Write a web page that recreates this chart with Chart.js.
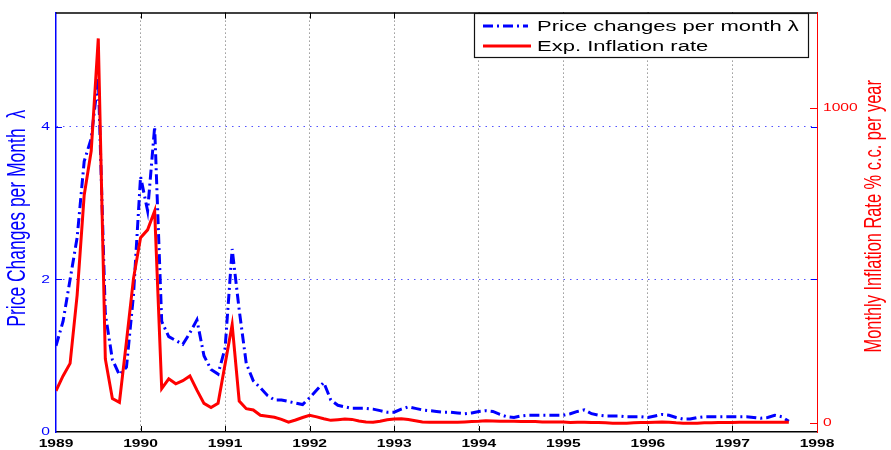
<!DOCTYPE html>
<html>
<head>
<meta charset="utf-8">
<script src="https://cdn.jsdelivr.net/npm/chart.js@4.4.1/dist/chart.umd.min.js"></script>
<style>
  html, body { margin: 0; padding: 0; background: #fff; }
  #wrap { width: 891px; height: 450px; }
</style>
</head>
<body>
<div id="wrap"><canvas id="chart" width="891" height="450"></canvas></div>
<script>
// Monthly series, January 1989 onwards
const START_YEAR = 1989;
const yearTicks = [1989, 1990, 1991, 1992, 1993, 1994, 1995, 1996, 1997, 1998];
const leftTicks = [0, 2, 4];
const rightTicks = [0, 1000];

// Price changes per month (lambda), left axis
const priceChanges = [
  1.13, 1.45, 2.0, 2.55, 3.55, 3.85, 4.65, 1.55, 0.95, 0.75, 0.85, 1.8,
  3.35, 2.9, 4.0, 1.45, 1.25, 1.2, 1.15, 1.3, 1.47, 1.0, 0.82, 0.76,
  1.1, 2.4, 1.6, 0.9, 0.67, 0.58, 0.48, 0.42, 0.42, 0.4, 0.38, 0.36,
  0.45, 0.55, 0.65, 0.42, 0.35, 0.33, 0.31, 0.31, 0.31, 0.3, 0.28, 0.26,
  0.26, 0.3, 0.33, 0.31, 0.29, 0.28, 0.27, 0.26, 0.26, 0.25, 0.24, 0.25,
  0.27, 0.28, 0.27, 0.23, 0.2, 0.19, 0.21, 0.22, 0.22, 0.22, 0.22, 0.22,
  0.22, 0.24, 0.27, 0.29, 0.24, 0.22, 0.21, 0.21, 0.21, 0.2, 0.2, 0.2,
  0.19, 0.21, 0.23, 0.22, 0.19, 0.17, 0.17, 0.19, 0.2, 0.2, 0.2, 0.2,
  0.2, 0.2, 0.2, 0.19, 0.18, 0.19, 0.22, 0.2, 0.14
];

// Expected inflation, % c.c. per year, right axis
const inflation = [
  103, 150, 190, 407, 724, 865, 1222, 204, 78, 66, 260, 460,
  589, 614, 674, 110, 141, 125, 135, 150, 105, 63, 50, 63,
  188, 313, 70, 46, 42, 25, 22, 19, 12, 3, 10, 18,
  25, 20, 14, 9, 11, 13, 12, 7, 4, 3, 6, 11,
  13, 14, 12, 8, 4, 3, 3, 3, 3, 3, 4, 5,
  6, 8, 7, 6, 6, 6, 5, 5, 5, 4, 4, 4,
  4, 2, 3, 3, 2, 2, 1, 0, 0, 0, 1, 2,
  2, 3, 4, 3, 1, 0, 0, 0, 1, 1, 2, 2,
  2, 3, 3, 3, 3, 3, 3, 3, 3
];

const months = priceChanges.map((_, i) => START_YEAR + i / 12);

const FONT = '"Liberation Sans", Arial, Helvetica, sans-serif';
const BLUE = '#0000ff';
const RED = '#ff0000';
const LAMBDA_DASH = [10, 4, 2, 4];

// Text in this figure is set wide: every string is stretched horizontally
// about its anchor point, in screen space, so rotated titles widen too.
const TEXT_STRETCH = 1.42;
function widenText(ctx) {
  const fill = ctx.fillText;
  ctx.fillText = function (text, x, y, maxWidth) {
    const m = this.getTransform();
    const p = m.transformPoint(new DOMPoint(x, y));
    this.save();
    const wide = new DOMMatrix()
      .translateSelf(p.x, p.y)
      .scaleSelf(TEXT_STRETCH, 1)
      .translateSelf(-p.x, -p.y)
      .multiplySelf(m);
    this.setTransform(wide);
    if (maxWidth === undefined) fill.call(this, text, x, y);
    else fill.call(this, text, x, y, maxWidth);
    this.restore();
  };
}

function seg(ctx, x1, y1, x2, y2) {
  ctx.beginPath();
  ctx.moveTo(x1, y1);
  ctx.lineTo(x2, y2);
  ctx.stroke();
}

// Box edge, inward tick marks, rotated axis titles and the boxed legend
const plotyyFrame = {
  id: 'plotyyFrame',
  afterDraw(chart) {
    const { ctx, chartArea: a, scales } = chart;
    ctx.save();

    ctx.strokeStyle = '#000';
    ctx.lineWidth = 1.5;
    seg(ctx, a.left, a.top + 0.5, a.right, a.top + 0.5);

    ctx.lineWidth = 1;
    yearTicks.slice(1, -1).forEach(v => {
      const px = Math.round(scales.x.getPixelForValue(v)) + 0.5;
      seg(ctx, px, a.bottom, px, a.bottom - 6);
      seg(ctx, px, a.top, px, a.top + 6);
    });

    ctx.strokeStyle = BLUE;
    leftTicks.slice(1).forEach(v => {
      const py = Math.round(scales.y.getPixelForValue(v)) + 0.5;
      seg(ctx, a.left, py, a.left + 6, py);
      seg(ctx, a.right, py, a.right - 6, py);
    });

    ctx.strokeStyle = RED;
    rightTicks.forEach(v => {
      const py = Math.round(scales.y2.getPixelForValue(v)) + 0.5;
      seg(ctx, a.right, py, a.right - 7, py);
    });

    // axis titles, both reading bottom to top
    const midY = (a.top + a.bottom) / 2 - 4;
    ctx.textAlign = 'center';
    ctx.textBaseline = 'middle';
    ctx.save();
    ctx.translate(18, midY);
    ctx.rotate(-Math.PI / 2);
    ctx.font = '17.5px ' + FONT;
    ctx.fillStyle = BLUE;
    ctx.fillText('Price Changes per Month  \u03bb', 0, 0);
    ctx.restore();

    ctx.save();
    ctx.translate(875, midY - 2);
    ctx.rotate(-Math.PI / 2);
    ctx.font = '16.4px ' + FONT;
    ctx.fillStyle = RED;
    ctx.fillText('Monthly Inflation Rate % c.c. per year', 0, 0);
    ctx.restore();

    // legend
    const lx = 474.5, ly = 13.5, lw = 334, lh = 44;
    ctx.fillStyle = '#fff';
    ctx.fillRect(lx, ly, lw, lh);
    ctx.strokeStyle = '#111';
    ctx.lineWidth = 1.2;
    ctx.strokeRect(lx, ly, lw, lh);

    ctx.lineWidth = 3;
    ctx.strokeStyle = BLUE;
    ctx.setLineDash(LAMBDA_DASH);
    seg(ctx, 483, 26, 528, 26);
    ctx.setLineDash([]);
    ctx.strokeStyle = RED;
    seg(ctx, 483, 46, 531, 46);

    ctx.font = '15.5px ' + FONT;
    ctx.fillStyle = '#000';
    ctx.textAlign = 'left';
    ctx.textBaseline = 'middle';
    ctx.fillText('Price changes per month \u03bb', 537, 26.5);
    ctx.fillText('Exp. Inflation rate', 537, 46.5);

    ctx.restore();
  }
};

const canvas = document.getElementById('chart');
const ctx2d = canvas.getContext('2d');
widenText(ctx2d);

new Chart(ctx2d, {
  type: 'line',
  data: {
    datasets: [
      {
        label: 'Price changes per month \u03bb',
        data: months.map((x, i) => ({ x, y: priceChanges[i] })),
        yAxisID: 'y',
        borderColor: BLUE,
        borderWidth: 3,
        borderDash: LAMBDA_DASH,
        pointRadius: 0,
        tension: 0,
        fill: false,
        order: 1
      },
      {
        label: 'Exp. Inflation rate',
        data: months.map((x, i) => ({ x, y: inflation[i] })),
        yAxisID: 'y2',
        borderColor: RED,
        borderWidth: 3,
        pointRadius: 0,
        tension: 0,
        fill: false,
        order: 0
      }
    ]
  },
  options: {
    responsive: false,
    animation: false,
    devicePixelRatio: 1,
    layout: { padding: { top: 7, left: 0, right: 0, bottom: 0 } },
    plugins: { legend: { display: false }, tooltip: { enabled: false } },
    scales: {
      x: {
        type: 'linear',
        position: 'bottom',
        min: 1989,
        max: 1998,
        afterBuildTicks: s => { s.ticks = yearTicks.map(v => ({ value: v })); },
        afterFit: s => { s.height = 18; },
        ticks: {
          autoSkip: false,
          maxRotation: 0,
          padding: 5,
          color: '#000',
          font: { family: FONT, size: 11, weight: 'bold' },
          callback: v => String(v)
        },
        grid: {
          drawTicks: false,
          lineWidth: 1,
          color: c => (c.tick && (c.tick.value === 1989 || c.tick.value === 1998))
            ? 'rgba(0,0,0,0)' : 'rgba(50,50,50,0.75)'
        },
        border: { color: '#000', width: 1.5, dash: [1, 3] }
      },
      y: {
        type: 'linear',
        position: 'left',
        min: 0,
        max: 5.5,
        afterBuildTicks: s => { s.ticks = leftTicks.map(v => ({ value: v })); },
        afterFit: s => { s.width = 56; },
        ticks: {
          padding: 6,
          color: BLUE,
          font: { family: FONT, size: 11 },
          callback: v => String(v)
        },
        grid: {
          drawTicks: false,
          lineWidth: 1,
          color: c => (c.tick && c.tick.value === 0) ? 'rgba(0,0,0,0)' : 'rgba(40,40,255,0.8)'
        },
        border: { color: BLUE, width: 1.5, dash: [1.5, 5] }
      },
      y2: {
        type: 'linear',
        position: 'right',
        min: -28,
        max: 1304,
        afterBuildTicks: s => { s.ticks = rightTicks.map(v => ({ value: v })); },
        afterFit: s => { s.width = 74; },
        ticks: {
          padding: 6,
          color: RED,
          font: { family: FONT, size: 11 },
          callback: v => String(v)
        },
        grid: { display: false, drawTicks: false },
        border: { color: RED, width: 1 }
      }
    }
  },
  plugins: [plotyyFrame]
});
</script>
</body>
</html>
